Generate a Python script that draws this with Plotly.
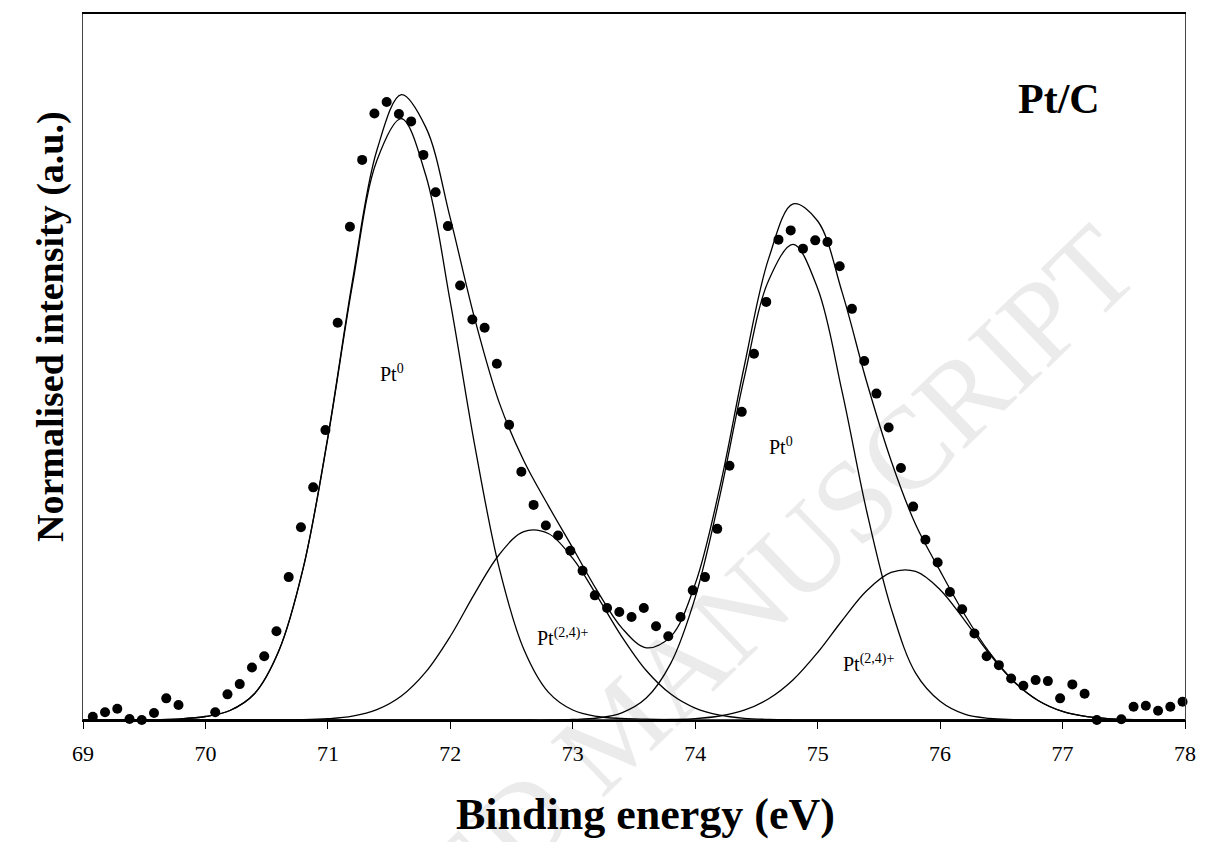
import plotly.graph_objects as go

# ---------------- data ----------------
# measured XPS points (binding energy, normalised intensity)
be_data = [69.08, 69.18, 69.28, 69.38, 69.48, 69.58, 69.68, 69.78, 70.08, 70.18,
           70.28, 70.38, 70.48, 70.58, 70.68, 70.78, 70.88, 70.98, 71.08, 71.18,
           71.28, 71.38, 71.48, 71.58, 71.68, 71.78, 71.88, 71.98, 72.08, 72.18,
           72.28, 72.38, 72.48, 72.58, 72.68, 72.78, 72.88, 72.98, 73.08, 73.18,
           73.28, 73.38, 73.48, 73.58, 73.68, 73.78, 73.88, 73.98, 74.08, 74.18,
           74.28, 74.38, 74.48, 74.58, 74.68, 74.78, 74.88, 74.98, 75.08, 75.18,
           75.28, 75.38, 75.48, 75.58, 75.68, 75.78, 75.88, 75.98, 76.08, 76.18,
           76.28, 76.38, 76.48, 76.58, 76.68, 76.78, 76.88, 76.98, 77.08, 77.18,
           77.28, 77.48, 77.58, 77.68, 77.78, 77.88, 77.98]
int_data = [3.3, 7.7, 11.3, 1.0, 0.0, 7.0, 21.7, 15.0, 7.7, 25.7,
            36.0, 52.7, 64.0, 89.0, 143.3, 193.3, 233.3, 290.7, 398.3, 494.7,
            561.7, 608.3, 619.7, 607.7, 600.3, 566.7, 529.3, 495.3, 435.7, 401.7,
            393.3, 357.3, 296.0, 249.0, 215.7, 195.0, 185.0, 169.7, 149.7, 125.0,
            112.3, 108.3, 103.3, 112.3, 94.0, 84.0, 103.3, 130.0, 143.3, 191.7,
            255.0, 309.0, 367.3, 419.3, 481.7, 491.0, 472.7, 481.0, 479.3, 455.0,
            412.3, 360.0, 327.3, 293.3, 252.7, 214.0, 180.7, 158.0, 128.3, 111.0,
            86.7, 64.0, 55.0, 41.7, 34.3, 40.0, 39.0, 21.7, 35.7, 26.3,
            0.0, 0.7, 13.3, 14.3, 9.3, 13.3, 18.3]

# fitted curves
fit_be = [69.0, 69.4, 69.8, 70.0, 70.2, 70.4, 70.6, 70.8, 71.0, 71.2, 71.4, 71.6,
          71.8, 72.0, 72.2, 72.4, 72.6, 72.8, 73.0, 73.2, 73.4, 73.6, 73.8, 74.0,
          74.2, 74.4, 74.6, 74.8, 75.0, 75.2, 75.4, 75.6, 75.8, 76.0, 76.2, 76.4,
          76.6, 76.8, 77.0, 77.2, 77.4, 77.6, 78.0]
pt0_a = [0, 0.2, 1.2, 3.5, 9.5, 26.3, 69.5, 153, 283, 436, 561, 603,
         546, 419, 275, 152, 71, 28, 10, 3.5, 1.5, 0.8, 0.4, 0.2,
         0, 0, 0, 0, 0, 0, 0, 0, 0, 0, 0, 0,
         0, 0, 0, 0, 0, 0, 0]
pt24_a = [0, 0, 0, 0, 0, 0, 0.1, 0.3, 1.3, 3.9, 10.4, 24.1,
          48.3, 84, 127, 166, 189, 187, 162, 124, 83.7, 49.6, 26, 11.9,
          4.8, 1.7, 0.6, 0.2, 0, 0, 0, 0, 0, 0, 0, 0,
          0, 0, 0, 0, 0, 0, 0]
pt0_b = [0, 0, 0, 0, 0, 0, 0, 0, 0, 0, 0, 0,
         0, 0, 0, 0, 0, 0, 0.5, 2.0, 7.2, 22, 56.8, 123,
         224, 343, 441, 477, 432.7, 329, 209.6, 112, 47, 18.8, 5.9, 1.6,
         0.4, 0, 0, 0, 0, 0, 0]
pt24_b = [0, 0, 0, 0, 0, 0, 0, 0, 0, 0, 0, 0,
          0, 0, 0, 0, 0, 0, 0, 0, 0, 0, 0.5, 1.4,
          4.0, 9.8, 21.3, 40.4, 67.7, 99.8, 129.6, 148, 149, 130.7, 99.9, 66.6,
          38.7, 19.6, 8.6, 3.3, 1.1, 0.3, 0]
envelope = [0, 0.2, 1.2, 3.5, 9.5, 26.3, 69.6, 153.3, 284.3, 439.9, 571.4, 627.1,
            594.3, 503, 402, 318, 260, 215, 172.5, 129.5, 92.4, 72.4, 83.7, 136.5,
            232.8, 354.5, 462.9, 517.6, 500.4, 428.8, 339.2, 260, 196, 149.5, 105.8, 68.2,
            39.1, 19.6, 8.6, 3.3, 1.1, 0.3, 0]

x_ticks = [69, 70, 71, 72, 73, 74, 75, 76, 77, 78]

SERIF = "Liberation Serif, Times New Roman, serif"

fig = go.Figure()

line_style = dict(color="black", width=1.3, shape="spline", smoothing=1.0)
for name, ys in [("Pt0 (1)", pt0_a), ("Pt(2,4)+ (1)", pt24_a),
                 ("Pt0 (2)", pt0_b), ("Pt(2,4)+ (2)", pt24_b),
                 ("Envelope", envelope)]:
    fig.add_trace(go.Scatter(x=fit_be, y=ys, mode="lines", line=line_style,
                             name=name, showlegend=False, hoverinfo="skip"))

fig.add_trace(go.Scatter(x=be_data, y=int_data, mode="markers",
                         marker=dict(color="black", size=10, line=dict(width=0)),
                         name="Data", showlegend=False, cliponaxis=False))

W, H = 1208, 842
L, R, T, B = 83.3, 1192.7, 12, 720


def px(xp):
    return (xp - L) / (R - L)


def py(yp):
    return (B - yp) / (B - T)


annotations = [
    dict(text="Pt<sup>0</sup>", x=px(380), y=py(372), xanchor="left", yanchor="middle"),
    dict(text="Pt<sup>0</sup>", x=px(772), y=py(445), xanchor="left", yanchor="middle"),
    dict(text="Pt<sup>(2,4)+</sup>", x=px(538), y=py(637), xanchor="left", yanchor="middle"),
    dict(text="Pt<sup>(2,4)+</sup>", x=px(846), y=py(663), xanchor="left", yanchor="middle"),
]
for a in annotations:
    a.update(xref="paper", yref="paper", showarrow=False,
             font=dict(family=SERIF, size=20, color="black"))

annotations += [
    dict(text="<b>Pt/C</b>", x=px(1066), y=py(97), xref="paper", yref="paper",
         showarrow=False, xanchor="center", yanchor="middle",
         font=dict(family=SERIF, size=42, color="black")),
    dict(text="<b>Binding energy (eV)</b>", x=px(650), y=py(815), xref="paper", yref="paper",
         showarrow=False, xanchor="center", yanchor="middle",
         font=dict(family=SERIF, size=44, color="black")),
    dict(text="<b>Normalised intensity (a.u.)</b>", x=px(50), y=py(325), xref="paper", yref="paper",
         showarrow=False, xanchor="center", yanchor="middle", textangle=-90,
         font=dict(family=SERIF, size=38, color="black")),
]

# faint watermark, drawn below the data
cx, cy = 612, 720
ux, uy = 0.719, -0.695
shapes = [dict(type="line", xref="paper", yref="paper", layer="below",
               x0=px(cx - 50 * ux), y0=py(cy - 50 * uy),
               x1=px(cx + 50 * ux), y1=py(cy + 50 * uy),
               line=dict(width=0, color="rgba(0,0,0,0)"),
               label=dict(text="ACCEPTED MANUSCRIPT", textposition="middle",
                          yanchor="middle", textangle=-44,
                          font=dict(family=SERIF, size=117, color="#ebebeb")))]

fig.update_layout(
    width=W, height=H,
    margin=dict(l=L, r=W - R, t=T, b=H - B, pad=0),
    paper_bgcolor="white", plot_bgcolor="white",
    annotations=annotations, shapes=shapes,
    showlegend=False,
)
fig.update_xaxes(range=[69, 78], tickvals=x_ticks, ticktext=[str(v) for v in x_ticks],
                 ticks="outside", ticklen=7, tickwidth=1, tickcolor="black",
                 ticklabelstandoff=6,
                 showline=True, linecolor="black", linewidth=1.5, mirror=True,
                 showgrid=False, zeroline=False,
                 tickfont=dict(family=SERIF, size=22, color="black"))
fig.update_yaxes(range=[0, 708], showticklabels=False, ticks="",
                 showline=True, linecolor="#444", linewidth=1, mirror=True,
                 showgrid=False, zeroline=False)

fig.write_html("out.html")
